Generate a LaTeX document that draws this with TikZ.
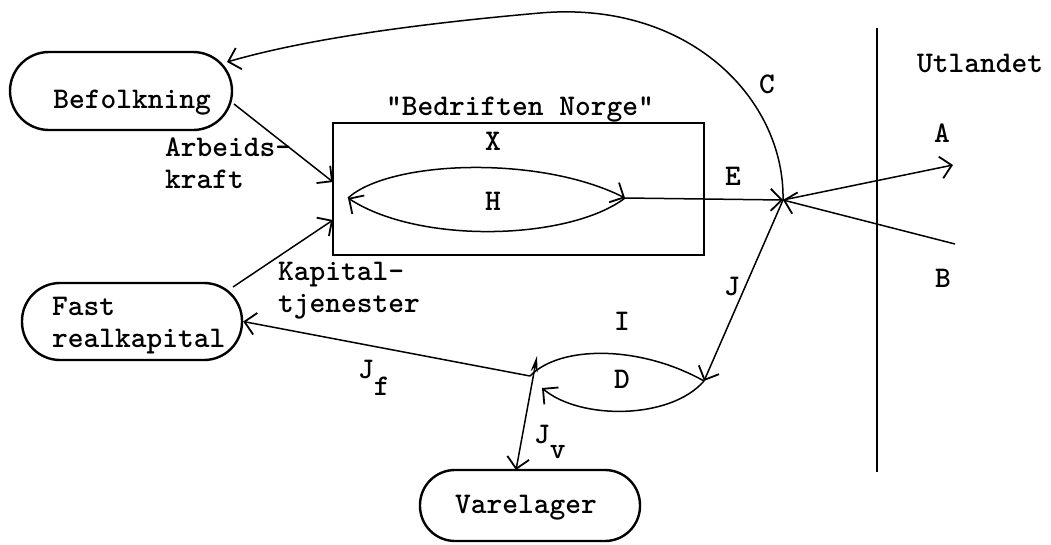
\documentclass[tikz,border=0pt]{standalone}
\usetikzlibrary{arrows.meta,calc}
\begin{document}
\begin{tikzpicture}[x=1pt,y=-1pt,
  lbl/.style={font=\ttfamily\bfseries\fontsize{30}{32}\selectfont, inner sep=0pt},
  stadium/.style={draw, line width=2.4pt, inner sep=0pt},
  plain/.style={line width=1.5pt},
  flow/.style={line width=1.5pt, -{Straight Barb[length=11pt,width=22pt,line width=1.8pt]}},
]
\useasboundingbox (0,0) rectangle (1051,544);

% stock nodes
\node[stadium, minimum width=222pt, minimum height=78pt, rounded corners=39pt] (bef) at (121,91) {};
\node[lbl, anchor=base] (beft) at (132,108) {Befolkning};
\node[stadium, minimum width=220pt, minimum height=77pt, rounded corners=38pt] (fast) at (132,321.5) {};
\node[lbl, anchor=west, align=left] (fastt) at (52,326) {Fast\\realkapital};
\node[stadium, minimum width=220pt, minimum height=71pt, rounded corners=35pt] (var) at (530,505.5) {};
\node[lbl, anchor=base] (vart) at (526,513) {Varelager};

% "Bedriften Norge" box
\node[draw, line width=2pt, minimum width=371pt, minimum height=132pt, inner sep=0pt] (bn) at (518.5,189) {};
\node[lbl, anchor=base] (bnt) at (520,115) {"Bedriften Norge"};

% border to abroad
\coordinate (dtop) at (877,28);
\coordinate (dbot) at (877,472);
\draw[line width=2pt] (dtop) -- (dbot);
\node[lbl, anchor=base] (utl) at (980,72) {Utlandet};

% points
\coordinate (hub) at (783,200);
\coordinate (xhL) at (348,198);
\coordinate (xhR) at (625,198);
\coordinate (dL) at (530,376);
\coordinate (dR) at (704,381);
\coordinate (dLa) at (542,388);
\coordinate (jvtop) at (537,356);
\coordinate (jvend) at (516,470);
\coordinate (aend) at (953,165);
\coordinate (bstart) at (955,244);
\coordinate (arbin) at (333,182);
\coordinate (kapin) at (333,220);
\coordinate (befout) at (234,104);
\coordinate (befin) at (227,62);
\coordinate (fastout) at (233,287);
\coordinate (ctop) at (540,13);

% X / H loop
\draw[flow] (xhL) .. controls (390,160) and (540,155) .. (xhR);
\draw[flow] (xhR) .. controls (570,240) and (420,245) .. (xhL);
\draw[flow] (xhR) -- (hub);

% flows to and from abroad
\draw[flow] (hub) -- (aend);
\draw[flow] (bstart) -- (hub);
\draw[flow] (hub) -- (dR);
\draw[flow] (hub) .. controls (785,100) and (690,0) .. (ctop) .. controls (450,21) and (320,35) .. (befin);

% factor inputs
\draw[flow] (befout) -- (arbin);
\draw[flow] (fastout) -- (kapin);

% D / I loop
\draw[plain] (dL) .. controls (560,345) and (640,345) .. (dR);
\draw[flow] (dR) .. controls (670,420) and (580,420) .. (dLa);
\draw[flow] (dL) -- (fast.east);
\draw[line width=1.5pt, {Stealth[length=16pt,width=7pt]}-{Straight Barb[length=11pt,width=22pt,line width=1.8pt]}] (jvtop) -- (jvend);

% labels
\node[lbl, anchor=base] (lx) at (493,150) {X};
\node[lbl, anchor=base] (lh) at (493,210) {H};
\node[lbl, anchor=base] (le) at (733,185) {E};
\node[lbl, anchor=base] (lc) at (767,93) {C};
\node[lbl, anchor=base] (la) at (942,142) {A};
\node[lbl, anchor=base] (lb) at (943,287) {B};
\node[lbl, anchor=base] (lj) at (732,295) {J};
\node[lbl, anchor=base] (li) at (622,330) {I};
\node[lbl, anchor=base] (ld) at (622,388) {D};
\node[lbl, anchor=base west] (ljf) at (358,378) {J\raisebox{-17pt}{f}};
\node[lbl, anchor=base west] (ljv) at (534,443) {J\raisebox{-15pt}{v}};
\node[lbl, anchor=west, align=left] (larb) at (165,163) {Arbeids-\\kraft};
\node[lbl, anchor=west, align=left] (lkap) at (278,291) {Kapital-\\tjenester};
\end{tikzpicture}
\end{document}
